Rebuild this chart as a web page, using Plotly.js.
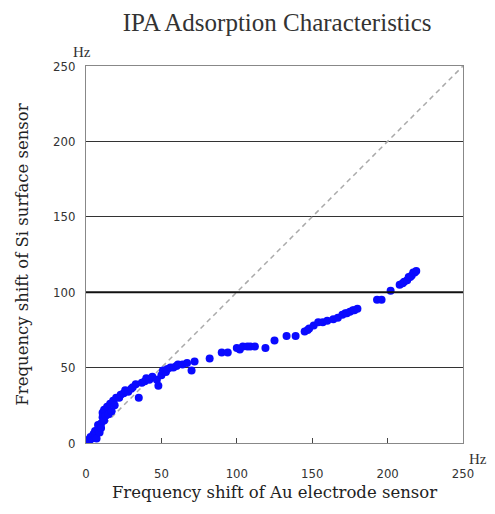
<!DOCTYPE html>
<html><head><meta charset="utf-8">
<script src="https://cdn.plot.ly/plotly-3.0.1.min.js"></script>
<style>html,body{margin:0;padding:0;background:#fff}#c{width:495px;height:514px}</style>
</head><body><div id="c"></div>
<script>
const auShift = [0,1,2,3,4,5,6,6,7,8,8,9,10,10,11,11,12,12,13,14,15,16,17,18,19,20,22,23,25,26,28,30,31,33,35,37,39,40,42,44,47,48,50,51,53,54,56,58,60,61,64,67,70,72,82,90,94,100,102,104,107,109,112,119,125,133,139,145,147,148,151,154,157,160,164,167,170,172,173,175,177,178,180,193,196,202,208,210,211,213,214,215,216,217,218,219];
const siShift = [0,2,1,4,3,6,5,8,3,9,12,7,13,10,17,20,15,22,18,24,19,26,21,28,25,30,30,32,33,35,34,36,37,39,30,40,41,43,42,44,42,38,45,48,47,49,50,50,51,52,52,53,48,54,56,60,60,63,62,64,64,64,64,63,68,71,71,74,75,76,78,80,80,81,82,83,85,86,86,87,88,88,89,95,95,101,105,106,107,108,110,110,111,113,113,114];
const diag = [0,250];
const tickVals = [0,50,100,150,200,250];
const tickText = ['0','50','100','150','200','250'];

const tickFont = {family:'DejaVu Sans Condensed, Liberation Sans Narrow, DejaVu Sans', size:13, color:'#333'};
const serif = 'Liberation Serif, DejaVu Serif, serif';
const wideSerif = 'DejaVu Serif, Liberation Serif, serif';

Plotly.newPlot('c', [
  {x: diag, y: diag, mode:'lines', line:{color:'#aaa', width:1.5, dash:'5px,4px'}, hoverinfo:'skip'},
  {x: auShift, y: siShift, mode:'markers', marker:{color:'#0a0aff', size:8}}
], {
  width:495, height:514,
  margin:{l:86, r:32, t:66, b:71},
  showlegend:false,
  paper_bgcolor:'#fff', plot_bgcolor:'#fff',
  title:{text:'IPA Adsorption Characteristics', font:{family:serif, size:25, color:'#333'}, x:0.56, xanchor:'center', y:0.957, yanchor:'middle'},
  xaxis:{range:[0,250], tickvals:tickVals, ticktext:tickText, ticks:'inside', ticklen:5, tickcolor:'#444',
    ticklabelstandoff:18, tickfont:tickFont, showgrid:false, zeroline:false,
    showline:true, mirror:true, linecolor:'#888', linewidth:1,
    title:{text:'Frequency shift of Au electrode sensor', font:{family:wideSerif, size:16.5, color:'#222'}, standoff:6}},
  yaxis:{range:[0,250], tickvals:tickVals, ticktext:tickText, ticks:'', ticklabelstandoff:7, tickfont:tickFont,
    showgrid:true, gridcolor:'#333', gridwidth:1, zeroline:false,
    showline:true, mirror:true, linecolor:'#888', linewidth:1,
    title:{text:'Frequency shift of Si surface sensor', font:{family:wideSerif, size:16.5, color:'#222'}, standoff:20}},
  shapes:[{type:'line', xref:'paper', yref:'y', x0:0, x1:1, y0:100, y1:100, line:{color:'#111', width:2}}],
  annotations:[
    {xref:'paper', yref:'paper', x:-0.01, y:1.01, xanchor:'center', yanchor:'bottom', text:'Hz', showarrow:false, font:{family:serif, size:15, color:'#333'}},
    {xref:'paper', yref:'paper', x:1.04, y:-0.015, xanchor:'center', yanchor:'top', text:'Hz', showarrow:false, font:{family:serif, size:15, color:'#333'}}
  ]
}, {displayModeBar:false, staticPlot:true});
</script></body></html>
